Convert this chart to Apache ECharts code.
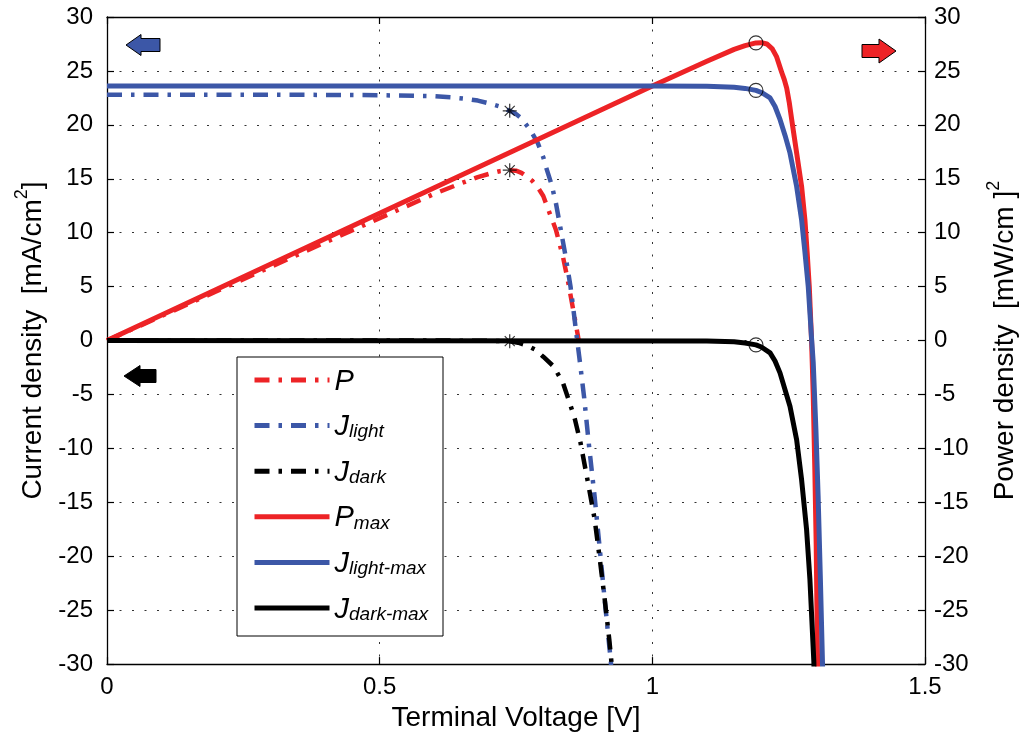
<!DOCTYPE html>
<html><head><meta charset="utf-8">
<script src="https://cdn.jsdelivr.net/npm/echarts@6/dist/echarts.min.js"></script>
<style>html,body{margin:0;padding:0;background:#fff}#c{width:1027px;height:737px}</style>
</head><body><div id="c"></div>
<script>
// ---- data ----
const xTicks = [0, 0.5, 1, 1.5];
const seriesNames = ['P', 'Jlight', 'Jdark', 'Pmax', 'Jlight-max', 'Jdark-max'];

const pV = [0, 0.2, 0.4, 0.6, 0.65, 0.68, 0.7, 0.72, 0.7385, 0.75, 0.76, 0.77, 0.78, 0.79, 0.8, 0.811, 0.823, 0.836, 0.845, 0.854, 0.863, 0.865];
const pP = [0, 4.55, 9.1, 13.6, 14.6, 15.15, 15.45, 15.7, 15.8, 15.75, 15.55, 15.2, 14.8, 14.2, 13.4, 11.9, 10.3, 7.8, 5.6, 3.1, 0.6, 0];

const jlV = [0, 0.3, 0.5, 0.6, 0.63, 0.66, 0.68, 0.7, 0.72, 0.7385, 0.75, 0.76, 0.772, 0.78, 0.79, 0.8, 0.805, 0.815, 0.823, 0.832, 0.841, 0.85, 0.855, 0.86, 0.866, 0.875, 0.884, 0.894, 0.903, 0.912, 0.921, 0.924, 0.925];
const jlJ = [22.8, 22.8, 22.75, 22.65, 22.55, 22.4, 22.25, 22.0, 21.7, 21.3, 21.0, 20.6, 19.8, 19.2, 18.3, 17.0, 16.1, 14.5, 12.8, 10.3, 7.8, 5.0, 3.0, 0.9, -1.5, -5.3, -9.8, -14.4, -19, -23.7, -28.3, -29.8, -31];

const jdV = [0, 0.6, 0.7, 0.72, 0.7385, 0.754, 0.77, 0.785, 0.8, 0.819, 0.836, 0.848, 0.858, 0.868, 0.881, 0.894, 0.903, 0.912, 0.921, 0.925, 0.926];
const jdJ = [0, 0, -0.02, -0.04, -0.06, -0.2, -0.45, -0.83, -1.5, -2.4, -3.9, -5.7, -7.3, -9.4, -12.9, -16.5, -20, -23.7, -27.7, -29.8, -31];

const pmV = [0, 0.5, 1.0, 1.1, 1.15, 1.17, 1.19, 1.2, 1.21, 1.22, 1.228, 1.237, 1.242, 1.2464, 1.251, 1.2555, 1.2646, 1.2737, 1.2798, 1.284, 1.2878, 1.292, 1.295, 1.298, 1.3005, 1.303, 1.3035];
const pmP = [0, 11.8, 23.6, 25.9, 27.0, 27.35, 27.6, 27.62, 27.5, 27.05, 26.3, 24.9, 24.2, 23.4, 22.1, 20.5, 17.4, 14.3, 11.2, 8.1, 5.0, 0, -5, -12, -19, -29.8, -31];

const jlmV = [0, 1.0, 1.1, 1.15, 1.17, 1.19, 1.2, 1.2159, 1.225, 1.2341, 1.2435, 1.2524, 1.2646, 1.2737, 1.2798, 1.2859, 1.292, 1.295, 1.3, 1.304, 1.308, 1.312, 1.3125];
const jlmJ = [23.6, 23.6, 23.57, 23.48, 23.38, 23.2, 23.0, 22.5, 21.7, 20.5, 19.0, 17.4, 14.3, 11.2, 8.2, 5.0, 0.2, -2, -8.3, -14.4, -21.8, -29.8, -31];

const jdmV = [0, 1.1, 1.15, 1.17, 1.19, 1.2, 1.2159, 1.225, 1.2341, 1.2524, 1.2646, 1.2737, 1.2828, 1.2889, 1.2962, 1.2967];
const jdmJ = [0, -0.04, -0.12, -0.22, -0.4, -0.6, -1.14, -1.9, -3.0, -6.1, -9.2, -12.9, -17.5, -22.1, -29.8, -31];

const starV = [0.7385, 0.7385, 0.7385];
const starY = [21.3, 15.8, -0.06];
const circV = [1.19, 1.19, 1.19];
const circY = [27.6, 23.2, -0.4];

// ---- styling ----
const RED = '#ED2326', BLUE = '#3C57A7', BLACK = '#000';
const FONT = "'Liberation Sans', Arial, Helvetica, sans-serif";
const DASHDOT = [15, 9, 3.5, 9];
const zip = (a, b) => a.map((v, i) => [v, b[i]]);

function lineSeries(name, xs, ys, color, dash, yIdx, w) {
  return {
    name: name, type: 'line', data: zip(xs, ys), yAxisIndex: yIdx,
    symbol: 'none', smooth: false, clip: true, animation: false,
    lineStyle: { color: color, width: w, type: dash ? DASHDOT : 'solid', cap: 'butt', join: 'round' },
    itemStyle: { color: color }
  };
}

const labelMap = {
  'P': '{b|P}',
  'Jlight': '{b|J}{s|light}',
  'Jdark': '{b|J}{s|dark}',
  'Pmax': '{b|P}{s|max}',
  'Jlight-max': '{b|J}{s|light-max}',
  'Jdark-max': '{b|J}{s|dark-max}'
};

const axisCommon = {
  axisLine: { show: true, onZero: false, lineStyle: { color: '#000', width: 1.3 } },
  axisTick: { show: true, inside: true, length: 7, lineStyle: { color: '#000', width: 1.2 } },
  axisLabel: { color: '#000', fontSize: 24, fontFamily: FONT },
  splitLine: { show: false }
};
const gridLine = { show: true, lineStyle: { color: '#333', width: 1, type: [2, 10.5] } };

function arrow(pointsDir, color, x0, x1, xh, yc, hh, sh) {
  let pts;
  if (pointsDir === 'left') {
    pts = [[x0, yc], [xh, yc - hh], [xh, yc - sh], [x1, yc - sh], [x1, yc + sh], [xh, yc + sh], [xh, yc + hh]];
  } else {
    pts = [[x1, yc], [xh, yc - hh], [xh, yc - sh], [x0, yc - sh], [x0, yc + sh], [xh, yc + sh], [xh, yc + hh]];
  }
  return { type: 'polygon', z: 10, shape: { points: pts }, style: { fill: color, stroke: '#000', lineWidth: 1 } };
}

const titleRich = {
  a: { color: '#000', fontSize: 28, fontFamily: FONT, lineHeight: 34, verticalAlign: 'bottom' },
  sup: { color: '#000', fontSize: 18, fontFamily: FONT, lineHeight: 34, verticalAlign: 'top' }
};

const option = {
  backgroundColor: '#fff',
  animation: false,
  textStyle: { fontFamily: FONT },
  grid: { left: 107, right: 98, top: 17, bottom: 72, containLabel: false },
  xAxis: [
    Object.assign({}, axisCommon, {
      type: 'value', min: xTicks[0], max: xTicks[xTicks.length - 1], interval: 0.5, position: 'bottom',
      name: 'Terminal Voltage [V]', nameLocation: 'middle', nameGap: 36,
      nameTextStyle: { color: '#000', fontSize: 28, fontFamily: FONT },
      axisLabel: { color: '#000', fontSize: 24, fontFamily: FONT, margin: 11 },
      splitLine: gridLine
    }),
    Object.assign({}, axisCommon, {
      type: 'value', min: xTicks[0], max: xTicks[xTicks.length - 1], interval: 0.5, position: 'top',
      axisLabel: { show: false }
    })
  ],
  yAxis: [
    Object.assign({}, axisCommon, {
      type: 'value', min: -30, max: 30, interval: 5, position: 'left',
      name: '{a|Current density  [mA/cm}{sup|2}{a|]}', nameLocation: 'middle', nameRotate: 90, nameGap: 57,
      nameTextStyle: { rich: titleRich },
      axisLabel: { color: '#000', fontSize: 24, fontFamily: FONT, margin: 14 },
      splitLine: gridLine
    }),
    Object.assign({}, axisCommon, {
      type: 'value', min: -30, max: 30, interval: 5, position: 'right',
      name: '{a|Power density  [mW/cm ]}{sup|2}', nameLocation: 'middle', nameRotate: 90, nameGap: 60,
      nameTextStyle: { rich: titleRich },
      axisLabel: { color: '#000', fontSize: 24, fontFamily: FONT, margin: 9 }
    })
  ],
  legend: {
    orient: 'vertical', left: 252, top: 367, padding: 0,
    itemWidth: 75, itemHeight: 14, itemGap: 16.6,
    data: seriesNames, selectedMode: false, z: 20,
    itemStyle: { opacity: 0 },
    lineStyle: { width: 5 },
    formatter: function (n) { return labelMap[n]; },
    textStyle: { rich: {
      b: { fontSize: 29, fontStyle: 'italic', fontFamily: FONT, color: '#000', lineHeight: 32, verticalAlign: 'bottom' },
      s: { fontSize: 19, fontStyle: 'italic', fontFamily: FONT, color: '#000', lineHeight: 26, verticalAlign: 'bottom' }
    } }
  },
  graphic: [
    { type: 'rect', z: 15, shape: { x: 237, y: 357, width: 206, height: 279 }, style: { fill: '#fff', stroke: '#000', lineWidth: 1 } },
    arrow('left', BLUE, 126, 160, 141, 45, 10.5, 6.5),
    arrow('right', RED, 862, 896, 879, 51, 12, 6.5),
    arrow('left', BLACK, 124, 156, 140, 376, 10.5, 6.5)
  ],
  series: [
    lineSeries('P', pV, pP, RED, true, 1, 4.5),
    lineSeries('Jlight', jlV, jlJ, BLUE, true, 0, 4.5),
    lineSeries('Jdark', jdV, jdJ, BLACK, true, 0, 4.5),
    lineSeries('Pmax', pmV, pmP, RED, false, 1, 5),
    lineSeries('Jlight-max', jlmV, jlmJ, BLUE, false, 0, 5),
    lineSeries('Jdark-max', jdmV, jdmJ, BLACK, false, 0, 5),
    {
      type: 'scatter', data: zip(starV, starY), animation: false, z: 5,
      symbol: 'path://M7,0L7,14M0,7L14,7M2,2L12,12M2,12L12,2', symbolSize: 14,
      itemStyle: { color: 'rgba(0,0,0,0)', borderColor: '#000', borderWidth: 1.2 }
    },
    {
      type: 'scatter', data: zip(circV, circY), animation: false, z: 5,
      symbol: 'circle', symbolSize: 14,
      itemStyle: { color: 'rgba(0,0,0,0)', borderColor: '#000', borderWidth: 1.1 }
    }
  ]
};

const chart = echarts.init(document.getElementById('c'), null, { renderer: 'canvas' });
chart.setOption(option);
</script>
</body></html>
